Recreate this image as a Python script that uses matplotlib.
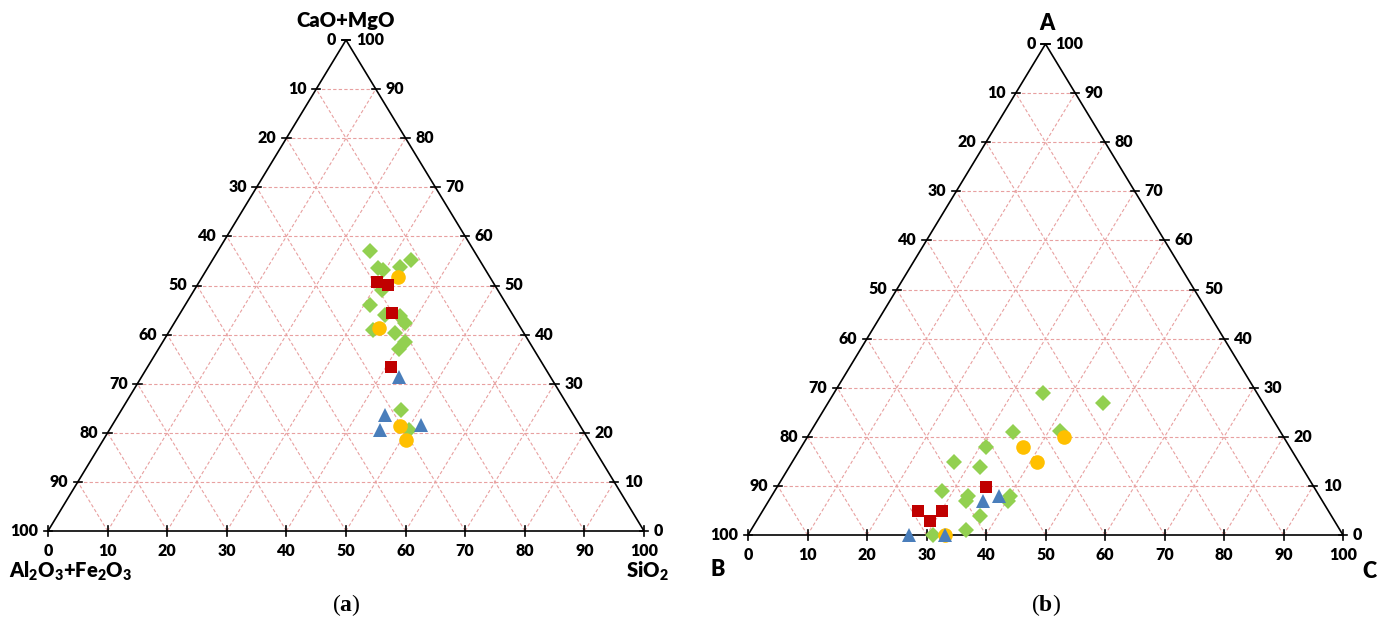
## === Libraries === ##

import numpy as np
import matplotlib as mpl
import matplotlib.pyplot as plt


## === Data === ##

# (a) CaO+MgO (top vertex) and SiO2 (bottom axis), Al2O3+Fe2O3 = rest
a_green_cao = [57.1, 53.5, 53.2, 53.8, 55.1, 49.1, 46.0, 44.0, 43.8, 42.3, 40.9, 40.4, 38.4, 37.1, 24.6, 20.6]
a_green_sio2 = [25.5, 28.7, 29.6, 32.2, 33.4, 31.5, 31.0, 34.5, 37.2, 38.8, 34.1, 38.1, 40.7, 40.4, 47.0, 50.2]
a_red_cao = [50.7, 50.2, 44.5, 33.3]
a_red_sio2 = [29.9, 32.0, 35.5, 40.9]
a_yellow_cao = [51.8, 41.4, 21.4, 18.5]
a_yellow_sio2 = [32.9, 34.9, 48.4, 50.9]
a_blue_cao = [31.4, 23.6, 20.6, 21.6]
a_blue_sio2 = [43.2, 44.7, 45.4, 51.7]

# (b) A (top vertex) and C (bottom axis), B = rest
b_green_a = [29.0, 26.9, 20.9, 21.2, 18.0, 14.9, 13.9, 9.0, 7.9, 6.9, 8.0, 6.9, 3.9, 1.0, 0.0]
b_green_c = [35.0, 46.2, 34.1, 41.8, 31.0, 27.1, 32.1, 28.1, 33.1, 33.2, 40.0, 40.2, 37.1, 36.1, 31.1]
b_red_a = [9.8, 4.9, 2.9, 4.9]
b_red_c = [35.1, 26.2, 29.2, 30.2]
b_yellow_a = [17.9, 14.9, 19.9, 0.0]
b_yellow_c = [37.2, 41.1, 43.1, 33.1]
b_blue_a = [6.9, 7.9, 0.0, 0.0]
b_blue_c = [36.1, 38.2, 27.1, 33.1]

tick_values = list(range(0, 101, 10))


## === Functions === ##

def to_xy(top, right):
    top = np.asarray(top, dtype=float)
    right = np.asarray(right, dtype=float)
    return right + top / 2.0, top


def draw_triangle(ax):
    grid_kw = dict(color="#e8a0a0", linestyle=(0, (3, 2)), linewidth=0.8, zorder=1)
    for i in range(1, 10):
        v = 10 * i
        ax.plot([v / 2, 100 - v / 2], [v, v], **grid_kw)
        ax.plot([v, v + (100 - v) / 2], [0, 100 - v], **grid_kw)
        ax.plot([100 - v, (100 - v) / 2], [0, 100 - v], **grid_kw)

    ax.plot([0, 100, 50, 0], [0, 0, 100, 0], color="black", linewidth=1.2, zorder=2, clip_on=False)

    tk = dict(color="black", linewidth=1.2, zorder=2, clip_on=False)
    lab = dict(textcoords="offset points", fontsize=11.5, fontweight="heavy")
    for v in tick_values:
        # bottom
        ax.plot([v, v], [-1.0, 1.0], **tk)
        ax.annotate(str(v), (v, 0), xytext=(0, -9), ha="center", va="top", **lab)
        # left edge: 0 at apex, 100 at bottom-left
        y = 100 - v
        ax.plot([y / 2 - 0.7, y / 2 + 0.7], [y, y], **tk)
        ax.annotate(str(v), (y / 2, y), xytext=(-7, 0), ha="right", va="center", **lab)
        # right edge: 100 at apex, 0 at bottom-right
        ax.plot([100 - v / 2 - 0.7, 100 - v / 2 + 0.7], [v, v], **tk)
        ax.annotate(str(v), (100 - v / 2, v), xytext=(7, 0), ha="left", va="center", **lab)

    ax.set_xlim(0, 100)
    ax.set_ylim(0, 100)
    ax.axis("off")


def draw_points(ax, top, right, marker, color, size, z):
    x, y = to_xy(top, right)
    ax.plot(x, y, linestyle="none", marker=marker, color=color, markersize=size,
            markeredgewidth=0, zorder=z, clip_on=False)


## === Main program === ##

plt.rcParams.update({"font.family": ["Lato", "DejaVu Sans"],
                     "mathtext.fontset": "custom",
                     "mathtext.default": "regular",
                     "mathtext.bf": "Liberation Serif:bold"})

green = "#92d050"
red = "#c00000"
yellow = "#ffc000"
blue = "#4a7ebb"

fig = plt.figure(figsize=(13.87, 6.2), dpi=100)

ax_a = fig.add_axes([48 / 1387, (620 - 531) / 620, 596 / 1387, 491 / 620])
ax_b = fig.add_axes([748 / 1387, (620 - 535) / 620, 595 / 1387, 491 / 620])

draw_triangle(ax_a)
draw_points(ax_a, a_green_cao, a_green_sio2, "D", green, 8.2, 3)
draw_points(ax_a, a_yellow_cao, a_yellow_sio2, "o", yellow, 10.5, 4)
draw_points(ax_a, a_red_cao, a_red_sio2, "s", red, 9, 5)
draw_points(ax_a, a_blue_cao, a_blue_sio2, "^", blue, 10, 6)

draw_triangle(ax_b)
draw_points(ax_b, b_green_a, b_green_c, "D", green, 8.2, 3)
draw_points(ax_b, b_yellow_a, b_yellow_c, "o", yellow, 10.5, 4)
draw_points(ax_b, b_red_a, b_red_c, "s", red, 9, 5)
draw_points(ax_b, b_blue_a, b_blue_c, "^", blue, 10, 6)

# vertex names
name_kw = dict(textcoords="offset points", fontweight="heavy")
ax_a.annotate("CaO+MgO", (50, 100), xytext=(0, 14), ha="center", va="center", fontsize=14.5, **name_kw)
ax_a.annotate("Al$_2$O$_3$+Fe$_2$O$_3$", (0, 0), xytext=(-28, -29), ha="left", va="center", fontsize=14.5, **name_kw)
ax_a.annotate("SiO$_2$", (100, 0), xytext=(18, -29), ha="right", va="center", fontsize=14.5, **name_kw)

ax_b.annotate("A", (50, 100), xytext=(1, 15), ha="center", va="center", fontsize=15.5, **name_kw)
ax_b.annotate("B", (0, 0), xytext=(-22, -25), ha="center", va="center", fontsize=15.5, **name_kw)
ax_b.annotate("C", (100, 0), xytext=(19, -26), ha="center", va="center", fontsize=15.5, **name_kw)

# captions
fig.text(346 / 1387, 1 - 605 / 620, r"($\mathbf{a}$)", ha="center", va="center", fontsize=17, family="Liberation Serif")
fig.text(1046 / 1387, 1 - 605 / 620, r"($\mathbf{b}$)", ha="center", va="center", fontsize=17, family="Liberation Serif")

fig.savefig("out.png", dpi=100)
plt.close()
